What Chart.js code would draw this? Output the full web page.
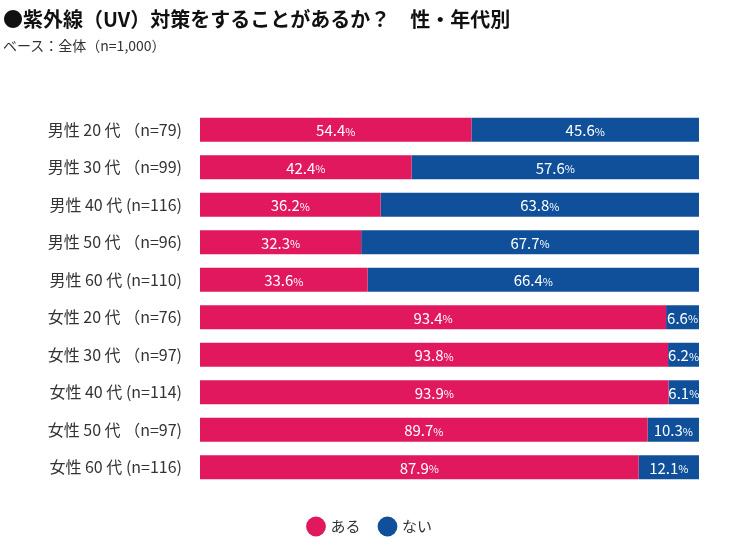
<!DOCTYPE html>
<html>
<head>
<meta charset="utf-8">
<script src="https://cdn.jsdelivr.net/npm/chart.js@4"></script>
<style>
  body { margin: 0; background: #fff; font-family: "Noto Sans CJK JP", sans-serif; }
  #wrap { position: relative; width: 730px; height: 548px; }
  #title { position: absolute; left: 3px; top: 4px; font-size: 20px; font-weight: bold; color: #111; }
  #sub { position: absolute; left: 3px; top: 35px; font-size: 14px; color: #333; }
  canvas { position: absolute; left: 0; top: 0; }
</style>
</head>
<body>
<div id="wrap">
  <canvas id="chartCanvas" width="730" height="548"></canvas>
  <div id="title">●紫外線（UV）対策をすることがあるか？　性・年代別</div>
  <div id="sub">ベース：全体（n=1,000）</div>
</div>
<script>
const categories = [
  "男性 20 代 （n=79)", "男性 30 代 （n=99)", "男性 40 代 (n=116)", "男性 50 代 （n=96)", "男性 60 代 (n=110)",
  "女性 20 代 （n=76)", "女性 30 代 （n=97)", "女性 40 代 (n=114)", "女性 50 代 （n=97)", "女性 60 代 (n=116)"
];
const aruValues = [54.4, 42.4, 36.2, 32.3, 33.6, 93.4, 93.8, 93.9, 89.7, 87.9];
const naiValues = [45.6, 57.6, 63.8, 67.7, 66.4, 6.6, 6.2, 6.1, 10.3, 12.1];
const seriesNames = ["ある", "ない"];

const PINK = '#E2185E';
const BLUE = '#10509A';
const FONT = '"Noto Sans CJK JP", sans-serif';

// white value labels centered on each segment, "%" drawn smaller
const valueLabels = {
    id: 'valueLabels',
    afterDatasetsDraw(chart) {
        const ctx = chart.ctx;
        ctx.save();
        ctx.fillStyle = '#fff';
        ctx.textBaseline = 'middle';
        chart.data.datasets.forEach((ds, i) => {
            chart.getDatasetMeta(i).data.forEach((bar, j) => {
                const num = ds.data[j].toFixed(1);
                const cx = (bar.x + bar.base) / 2;
                ctx.font = '15px ' + FONT;
                const w1 = ctx.measureText(num).width;
                ctx.font = '11px ' + FONT;
                const w2 = ctx.measureText('%').width;
                const x0 = cx - (w1 + w2) / 2;
                ctx.font = '15px ' + FONT;
                ctx.fillText(num, x0, bar.y + 1);
                ctx.font = '11px ' + FONT;
                ctx.fillText('%', x0 + w1, bar.y + 2);
            });
        });
        ctx.restore();
    }
};

new Chart(document.getElementById('chartCanvas').getContext('2d'), {
    type: 'bar',
    data: {
        labels: categories,
        datasets: [
            { label: seriesNames[0], data: aruValues, backgroundColor: PINK, borderWidth: 0 },
            { label: seriesNames[1], data: naiValues, backgroundColor: BLUE, borderWidth: 0 }
        ]
    },
    options: {
        indexAxis: 'y',
        responsive: false,
        animation: false,
        barPercentage: 0.64,
        categoryPercentage: 1,
        layout: { padding: { top: 111, right: 31, bottom: 4, left: 42 } },
        scales: {
            x: {
                stacked: true, min: 0, max: 100,
                display: false
            },
            y: {
                stacked: true,
                grid: { display: false },
                border: { display: false },
                ticks: { color: '#333', font: { family: FONT, size: 16 }, padding: 10 },
                afterFit(scale) { scale.width = 158; }
            }
        },
        plugins: {
            legend: {
                position: 'bottom',
                // empty title only used as spacer above the legend row
                title: { display: true, text: ' ', padding: 0, font: { size: 13, lineHeight: 1 } },
                labels: {
                    usePointStyle: true, pointStyle: 'circle',
                    boxWidth: 14, boxHeight: 14, padding: 20,
                    color: '#333', font: { family: FONT, size: 15 }
                }
            },
            tooltip: { enabled: false }
        }
    },
    plugins: [valueLabels]
});
</script>
</body>
</html>
